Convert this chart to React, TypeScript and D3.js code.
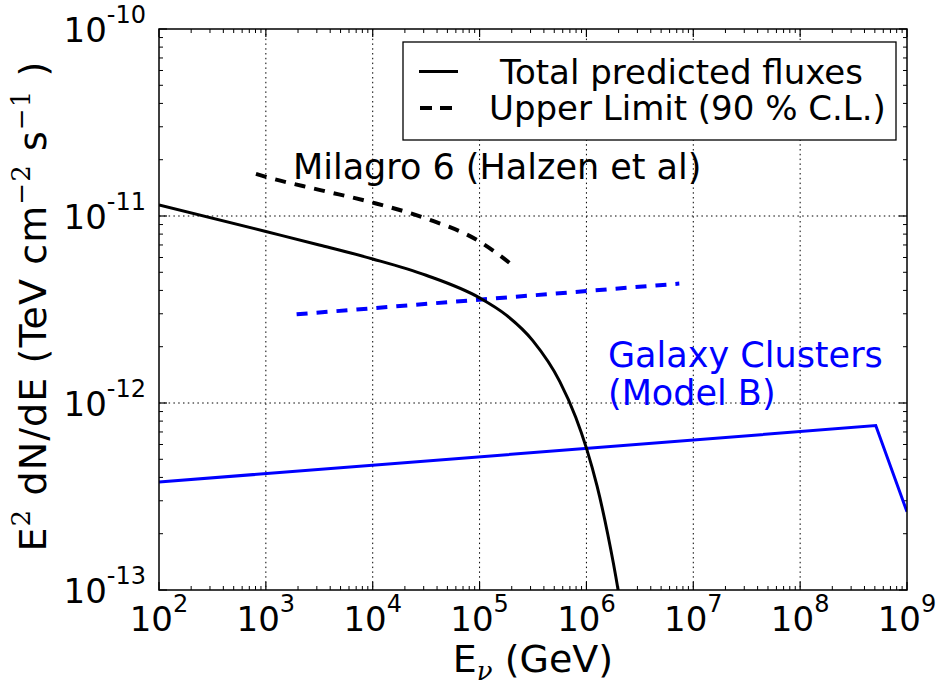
import React from "react";
import * as d3 from "d3";

// ---- Data ----
const xTickExps = [2, 3, 4, 5, 6, 7, 8, 9];
const yTickExps = [-13, -12, -11, -10];

// Total predicted fluxes (black solid)
const totalE = [1e2, 1e3, 3.16e3, 1e4, 3.16e4, 1e5, 1.78e5, 3.16e5, 5.62e5, 7.94e5, 1e6, 1.26e6, 1.58e6, 2.0e6, 2.24e6];
const totalF = [1.146e-11, 8.26e-12, 7.0e-12, 5.89e-12, 4.82e-12, 3.65e-12, 2.95e-12, 2.15e-12, 1.306e-12, 8.4e-13, 5.74e-13, 3.58e-13, 2.0e-13, 9.64e-14, 6.3e-14];

// Milagro 6 upper limit (black dashed)
const milagroE = [8.08e2, 1e3, 3.16e3, 1e4, 3.16e4, 1e5, 1.58e5, 2.2e5];
const milagroF = [1.68e-11, 1.62e-11, 1.38e-11, 1.18e-11, 9.7e-12, 7.3e-12, 6.1e-12, 5.25e-12];

// Galaxy clusters upper limit (blue dashed)
const clusterUlE = [1.94e3, 7.4e6];
const clusterUlF = [2.98e-12, 4.35e-12];

// Galaxy clusters Model B prediction (blue solid)
const clusterE = [1e2, 5.1e8, 1e9];
const clusterF = [3.78e-13, 7.57e-13, 2.62e-13];

const W = 938;
const H = 685;
const L = 159, R = 907, T = 29, B = 590;
const FONT = "DejaVu Sans, Bitstream Vera Sans, sans-serif";
const SERIF = "DejaVu Serif, serif";

export default function App() {
  const x = d3.scaleLog().domain([1e2, 1e9]).range([L, R]);
  const y = d3.scaleLog().domain([1e-13, 1e-10]).range([B, T]);

  const zip = (a: number[], b: number[]) => a.map((v, i) => [v, b[i]] as [number, number]);
  const lineSmooth = d3.line<[number, number]>().x(d => x(d[0])).y(d => y(d[1])).curve(d3.curveMonotoneX);
  const lineStraight = d3.line<[number, number]>().x(d => x(d[0])).y(d => y(d[1]));

  const xMajors = xTickExps.map(e => Math.pow(10, e));
  const yMajors = yTickExps.map(e => Math.pow(10, e));
  const xMinors: number[] = [];
  for (let e = xTickExps[0]; e < xTickExps[xTickExps.length - 1]; e++)
    for (let m = 2; m <= 9; m++) xMinors.push(m * Math.pow(10, e));
  const yMinors: number[] = [];
  for (let e = yTickExps[0]; e < yTickExps[yTickExps.length - 1]; e++)
    for (let m = 2; m <= 9; m++) yMinors.push(m * Math.pow(10, e));

  const majLen = 8, minLen = 4;
  const gridDash = "1.5,3.3";

  return (
    <svg width={W} height={H} style={{ position: "absolute", left: 0, top: 0, background: "#fff" }} fontFamily={FONT}>
      <rect x={0} y={0} width={W} height={H} fill="#fff" />
      <defs>
        <clipPath id="plotclip">
          <rect x={L} y={T} width={R - L} height={B - T} />
        </clipPath>
      </defs>

      {/* grid */}
      {xMajors.slice(1, -1).map((v, i) => (
        <line key={"gx" + i} x1={x(v)} x2={x(v)} y1={T} y2={B} stroke="#000" strokeWidth={1} strokeDasharray={gridDash} />
      ))}
      {yMajors.slice(1, -1).map((v, i) => (
        <line key={"gy" + i} x1={L} x2={R} y1={y(v)} y2={y(v)} stroke="#000" strokeWidth={1} strokeDasharray={gridDash} />
      ))}

      {/* ticks */}
      {xMajors.map((v, i) => (
        <g key={"xt" + i} stroke="#000" strokeWidth={1.2}>
          <line x1={x(v)} x2={x(v)} y1={B} y2={B - majLen} />
          <line x1={x(v)} x2={x(v)} y1={T} y2={T + majLen} />
        </g>
      ))}
      {xMinors.map((v, i) => (
        <g key={"xm" + i} stroke="#000" strokeWidth={1}>
          <line x1={x(v)} x2={x(v)} y1={B} y2={B - minLen} />
          <line x1={x(v)} x2={x(v)} y1={T} y2={T + minLen} />
        </g>
      ))}
      {yMajors.map((v, i) => (
        <g key={"yt" + i} stroke="#000" strokeWidth={1.2}>
          <line x1={L} x2={L + majLen} y1={y(v)} y2={y(v)} />
          <line x1={R} x2={R - majLen} y1={y(v)} y2={y(v)} />
        </g>
      ))}
      {yMinors.map((v, i) => (
        <g key={"ym" + i} stroke="#000" strokeWidth={1}>
          <line x1={L} x2={L + minLen} y1={y(v)} y2={y(v)} />
          <line x1={R} x2={R - minLen} y1={y(v)} y2={y(v)} />
        </g>
      ))}

      {/* data */}
      <g clipPath="url(#plotclip)" fill="none">
        <path d={lineStraight(zip(clusterE, clusterF)) || ""} stroke="#0000ff" strokeWidth={3} />
        <path d={lineStraight(zip(clusterUlE, clusterUlF)) || ""} stroke="#0000ff" strokeWidth={4} strokeDasharray="11,9" />
        <path d={lineSmooth(zip(milagroE, milagroF)) || ""} stroke="#000" strokeWidth={4} strokeDasharray="11,9" />
        <path d={lineSmooth(zip(totalE, totalF)) || ""} stroke="#000" strokeWidth={3} />
      </g>

      {/* spines */}
      <rect x={L} y={T} width={R - L} height={B - T} fill="none" stroke="#000" strokeWidth={1.5} />

      {/* x tick labels */}
      {xTickExps.map((e, i) => (
        <text key={"xl" + i} x={x(Math.pow(10, e))} y={B + 41} fontSize={34} textAnchor="middle" fill="#000">
          10<tspan fontSize={24} dy={-19}>{e}</tspan>
        </text>
      ))}
      {/* y tick labels */}
      {yTickExps.map((e, i) => (
        <text key={"yl" + i} x={L - 13} y={y(Math.pow(10, e)) + 13} fontSize={34} textAnchor="end" fill="#000">
          10<tspan fontSize={24} dy={-19}>{"-" + Math.abs(e)}</tspan>
        </text>
      ))}

      {/* axis labels */}
      <text x={(L + R) / 2} y={672} fontSize={38} textAnchor="middle" fill="#000">
        E<tspan fontSize={26} fontFamily={SERIF} fontStyle="italic" dy={8}>ν</tspan>
        <tspan dy={-8}> (GeV)</tspan>
      </text>
      <text transform={`translate(46, 306) rotate(-90)`} fontSize={38} letterSpacing={1.1} textAnchor="middle" fill="#000">
        E<tspan fontSize={26} fontFamily={SERIF} dy={-16}>2</tspan>
        <tspan dy={16}> dN/dE (TeV cm</tspan>
        <tspan fontSize={26} fontFamily={SERIF} dy={-16}>−2</tspan>
        <tspan dy={16}> s</tspan>
        <tspan fontSize={26} fontFamily={SERIF} dy={-16}>−1</tspan>
        <tspan dy={16}> )</tspan>
      </text>

      {/* annotations */}
      <text x={293} y={179} fontSize={35} fill="#000">Milagro 6 (Halzen et al)</text>
      <text x={608} y={367} fontSize={35} fill="#0000ff">Galaxy Clusters</text>
      <text x={608} y={405} fontSize={35} fill="#0000ff">(Model B)</text>

      {/* legend */}
      <rect x={403} y={42} width={493} height={98} fill="#fff" stroke="#000" strokeWidth={1.3} />
      <line x1={419} x2={458} y1={71.5} y2={71.5} stroke="#000" strokeWidth={3} />
      <line x1={420} x2={460} y1={108} y2={108} stroke="#000" strokeWidth={4} strokeDasharray="12,8" />
      <text x={500} y={83.5} fontSize={34} fill="#000">Total predicted fluxes</text>
      <text x={489} y={120} fontSize={34} fill="#000">Upper Limit (90 % C.L.)</text>
    </svg>
  );
}
